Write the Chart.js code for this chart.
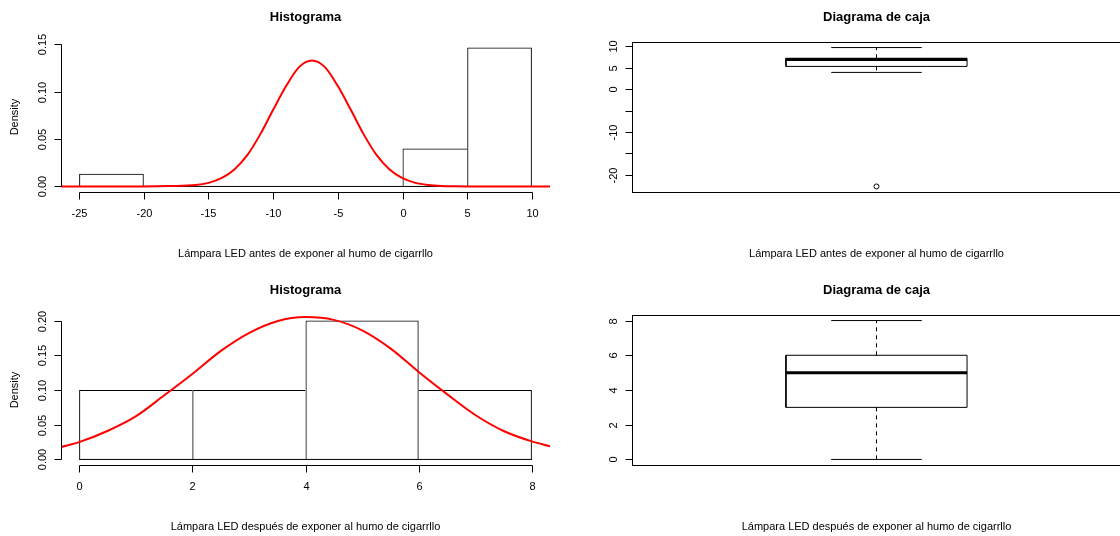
<!DOCTYPE html>
<html>
<head>
<meta charset="utf-8">
<title>Lámpara LED</title>
<script src="https://cdn.jsdelivr.net/npm/chart.js@4/dist/chart.umd.min.js"></script>
<style>
  html, body { margin: 0; padding: 0; background: #fff; overflow: hidden; }
  #page { position: relative; width: 1120px; height: 536px; overflow: hidden; background: #fff; }
  .panel { position: absolute; width: 560px; height: 268px; }
  .panel canvas { display: block; }
</style>
</head>
<body>
<div id="page">
  <div class="panel" style="left:0;top:0"><canvas id="histAntes" width="560" height="268"></canvas></div>
  <div class="panel" style="left:571px;top:0"><canvas id="boxAntes" width="560" height="268"></canvas></div>
  <div class="panel" style="left:0;top:273px"><canvas id="histDespues" width="560" height="268"></canvas></div>
  <div class="panel" style="left:571px;top:273px"><canvas id="boxDespues" width="560" height="268"></canvas></div>
</div>
<script>
// ---- Lámpara LED antes de exponer al humo ----
const antesBreaks = [-25, -20, -15, -10, -5, 0, 5, 10];
const antesDensity = [0.0133, 0, 0, 0, 0, 0.04, 0.1467];
const antesCurveX = [-26.4, -20, -18, -16, -15, -14, -13, -12, -11, -10, -9, -8, -7, -6, -5, -4, -3, -2, -1, 0, 1, 2, 3, 4, 5, 11.4];
const antesCurveY = [0, 0, 0.0004, 0.0015, 0.0038, 0.0087, 0.018, 0.033, 0.055, 0.081, 0.106, 0.126, 0.133, 0.126, 0.106, 0.081, 0.055, 0.033, 0.018, 0.0087, 0.0038, 0.0015, 0.0004, 0.0001, 0, 0];
const antesHistXTicks = [-25, -20, -15, -10, -5, 0, 5, 10];
const antesHistXLabels = ['-25', '-20', '-15', '-10', '-5', '0', '5', '10'];
const antesHistYTicks = [0, 0.05, 0.10, 0.15];
const antesHistYLabels = ['0.00', '0.05', '0.10', '0.15'];
// five-number summary: lower whisker, Q1, median, Q3, upper whisker
const antesBox = [3.9, 5.3, 6.9, 7.2, 9.7];
const antesOutliers = [-22.7];
const antesBoxYTicks = [-20, -15, -10, -5, 0, 5, 10];
const antesBoxYLabels = ['-20', '', '-10', '', '0', '5', '10'];

// ---- Lámpara LED después de exponer al humo ----
const despuesBreaks = [0, 2, 4, 6, 8];
const despuesDensity = [0.1, 0.1, 0.2, 0.1];
const despuesCurveX = [-0.32, 0, 0.5, 1, 1.5, 2, 2.5, 3, 3.5, 4, 4.5, 5, 5.5, 6, 6.5, 7, 7.5, 8, 8.32];
const despuesCurveY = [0.018, 0.025, 0.041, 0.062, 0.092, 0.123, 0.156, 0.182, 0.199, 0.205, 0.201, 0.186, 0.160, 0.126, 0.094, 0.064, 0.041, 0.026, 0.019];
const despuesHistXTicks = [0, 2, 4, 6, 8];
const despuesHistXLabels = ['0', '2', '4', '6', '8'];
const despuesHistYTicks = [0, 0.05, 0.10, 0.15, 0.20];
const despuesHistYLabels = ['0.00', '0.05', '0.10', '0.15', '0.20'];
const despuesBox = [0, 3, 5, 6, 8];
const despuesOutliers = [];
const despuesBoxYTicks = [0, 2, 4, 6, 8];
const despuesBoxYLabels = ['0', '2', '4', '6', '8'];

const FONT = '"Liberation Sans", Arial, Helvetica, sans-serif';
const PADDING = { left: 61, right: 10, top: 42, bottom: 76 };

// axis range extended by 4% on each side, base-graphics style
function padRange(lo, hi) {
  const d = (hi - lo) * 0.04;
  return [lo - d, hi + d];
}

// titles, axes with outward ticks, rotated y labels, optional frame
function baseGraphics(spec) {
  return {
    id: 'baseGraphics',
    afterDraw(chart) {
      const { ctx, chartArea: a, scales } = chart;
      ctx.save();
      ctx.fillStyle = '#000';
      ctx.strokeStyle = '#000';
      ctx.lineWidth = 1;
      ctx.setLineDash([]);
      const cx = (a.left + a.right) / 2;
      ctx.textAlign = 'center';
      ctx.textBaseline = 'alphabetic';
      ctx.font = 'bold 13px ' + FONT;
      ctx.fillText(spec.title, cx, 21);
      ctx.font = '11px ' + FONT;
      ctx.fillText(spec.xlab, cx, 257);
      if (spec.ylab) {
        ctx.save();
        ctx.translate(18, (a.top + a.bottom) / 2);
        ctx.rotate(-Math.PI / 2);
        ctx.fillText(spec.ylab, 0, 0);
        ctx.restore();
      }
      if (spec.frame) {
        const l = Math.round(a.left) + 0.5, t = Math.round(a.top) + 0.5;
        const r = Math.round(a.right) + 0.5, b = Math.round(a.bottom) + 0.5;
        ctx.strokeRect(l, t, r - l, b - t);
      }
      if (spec.xTicks) {
        const xs = spec.xTicks.map(v => Math.round(scales.x.getPixelForValue(v)) + 0.5);
        const y0 = Math.round(a.bottom) + 0.5;
        ctx.beginPath();
        ctx.moveTo(xs[0], y0);
        ctx.lineTo(xs[xs.length - 1], y0);
        xs.forEach(x => { ctx.moveTo(x, y0); ctx.lineTo(x, y0 + 7); });
        ctx.stroke();
        spec.xLabels.forEach((t, i) => ctx.fillText(t, xs[i], a.bottom + 25));
      }
      if (spec.yTicks) {
        const ys = spec.yTicks.map(v => Math.round(scales.y.getPixelForValue(v)) + 0.5);
        const x0 = Math.round(a.left) + 0.5;
        ctx.beginPath();
        ctx.moveTo(x0, Math.max(...ys));
        ctx.lineTo(x0, Math.min(...ys));
        ys.forEach(y => { ctx.moveTo(x0, y); ctx.lineTo(x0 - 7, y); });
        ctx.stroke();
        spec.yLabels.forEach((t, i) => {
          if (!t) return;
          ctx.save();
          ctx.translate(a.left - 15, ys[i]);
          ctx.rotate(-Math.PI / 2);
          ctx.fillText(t, 0, 0);
          ctx.restore();
        });
      }
      ctx.restore();
    }
  };
}

function commonOptions(xr, yr, xTicks) {
  return {
    responsive: false,
    animation: false,
    devicePixelRatio: 1,
    events: [],
    layout: { padding: PADDING },
    plugins: { legend: { display: false }, tooltip: { enabled: false }, title: { display: false } },
    scales: {
      x: {
        type: 'linear', display: false, offset: false, min: xr[0], max: xr[1],
        afterBuildTicks: s => { if (xTicks) s.ticks = xTicks.map(v => ({ value: v })); }
      },
      y: { type: 'linear', display: false, min: yr[0], max: yr[1] }
    }
  };
}

function histogram(id, breaks, density, curveX, curveY, spec) {
  const n = density.length;
  const mids = density.map((_, i) => (breaks[i] + breaks[i + 1]) / 2);
  const xr = padRange(breaks[0], breaks[breaks.length - 1]);
  const yr = padRange(0, Math.max(...density));
  // each shared edge is drawn once, by the taller neighbour
  const edges = c => {
    const i = c.dataIndex, h = density[i];
    const prev = i > 0 ? density[i - 1] : -1;
    const next = i < n - 1 ? density[i + 1] : -1;
    return { top: 1, bottom: 0, left: prev <= h ? 1 : 0, right: next < h ? 1 : 0 };
  };
  new Chart(document.getElementById(id), {
    type: 'bar',
    data: {
      datasets: [
        {
          type: 'line', label: 'Normal',
          data: curveX.map((x, i) => ({ x, y: curveY[i] })),
          borderColor: '#ff0000', borderWidth: 2, pointRadius: 0,
          cubicInterpolationMode: 'monotone', fill: false, order: 0
        },
        {
          type: 'line', label: 'Base',
          data: [{ x: breaks[0], y: 0 }, { x: breaks[breaks.length - 1], y: 0 }],
          borderColor: '#000', borderWidth: 1, pointRadius: 0, fill: false, order: 1
        },
        {
          type: 'bar', label: 'Density',
          data: mids.map((x, i) => ({ x, y: density[i] })),
          backgroundColor: 'rgba(0,0,0,0)', borderColor: '#000',
          borderWidth: edges, borderSkipped: false, inflateAmount: 0,
          barPercentage: 1, categoryPercentage: 1, order: 2
        }
      ]
    },
    options: commonOptions(xr, yr, spec.xTicks),
    plugins: [baseGraphics(spec)]
  });
}

function boxplot(id, stats, outliers, spec) {
  const [lo, q1, med, q3, hi] = stats;
  const yr = padRange(Math.min(lo, ...outliers), Math.max(hi, ...outliers));
  const xr = padRange(0.5, 1.5);
  const at = 1, half = 0.2, staple = 0.1;
  const seg = (pts, extra) => Object.assign({
    data: pts.map(([x, y]) => ({ x, y })), showLine: true,
    borderColor: '#000', borderWidth: 1, pointRadius: 0, tension: 0, fill: false
  }, extra);
  new Chart(document.getElementById(id), {
    type: 'scatter',
    data: {
      datasets: [
        seg([[at - half, med], [at + half, med]], { label: 'Mediana', borderWidth: 3, order: 0 }),
        seg([[at - half, q1], [at + half, q1], [at + half, q3], [at - half, q3], [at - half, q1]], { label: 'Caja', order: 1 }),
        seg([[at, q3], [at, hi]], { label: 'Bigote sup.', borderDash: [4, 4], order: 2 }),
        seg([[at, q1], [at, lo]], { label: 'Bigote inf.', borderDash: [4, 4], order: 2 }),
        seg([[at - staple, hi], [at + staple, hi]], { label: 'Máximo', order: 2 }),
        seg([[at - staple, lo], [at + staple, lo]], { label: 'Mínimo', order: 2 }),
        {
          label: 'Atípicos', data: outliers.map(y => ({ x: at, y })), showLine: false,
          pointRadius: 2.5, pointBorderWidth: 1, pointBorderColor: '#000',
          pointBackgroundColor: 'rgba(0,0,0,0)', order: 0
        }
      ]
    },
    options: commonOptions(xr, yr, null),
    plugins: [baseGraphics(spec)]
  });
}

histogram('histAntes', antesBreaks, antesDensity, antesCurveX, antesCurveY, {
  title: 'Histograma', xlab: 'Lámpara LED antes de exponer al humo de cigarrllo', ylab: 'Density',
  xTicks: antesHistXTicks, xLabels: antesHistXLabels, yTicks: antesHistYTicks, yLabels: antesHistYLabels
});
boxplot('boxAntes', antesBox, antesOutliers, {
  title: 'Diagrama de caja', xlab: 'Lámpara LED antes de exponer al humo de cigarrllo', frame: true,
  yTicks: antesBoxYTicks, yLabels: antesBoxYLabels
});
histogram('histDespues', despuesBreaks, despuesDensity, despuesCurveX, despuesCurveY, {
  title: 'Histograma', xlab: 'Lámpara LED después de exponer al humo de cigarrllo', ylab: 'Density',
  xTicks: despuesHistXTicks, xLabels: despuesHistXLabels, yTicks: despuesHistYTicks, yLabels: despuesHistYLabels
});
boxplot('boxDespues', despuesBox, despuesOutliers, {
  title: 'Diagrama de caja', xlab: 'Lámpara LED después de exponer al humo de cigarrllo', frame: true,
  yTicks: despuesBoxYTicks, yLabels: despuesBoxYLabels
});
</script>
</body>
</html>
